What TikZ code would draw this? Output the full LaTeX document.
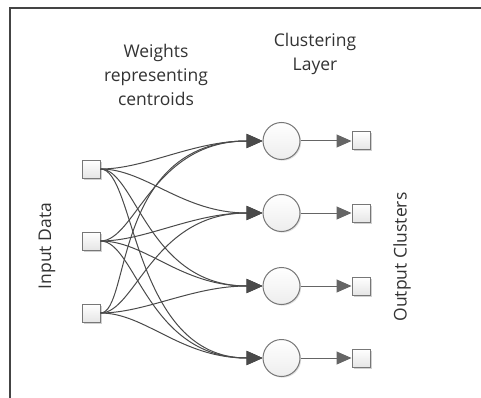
\documentclass[tikz,border=0pt]{standalone}
\usepackage{fontspec}
\setmainfont{Open Sans}
\usetikzlibrary{arrows.meta,shadows}
\definecolor{linec}{HTML}{4A4A4A}
\definecolor{bordc}{HTML}{777777}
\definecolor{textc}{HTML}{333333}
\definecolor{framec}{HTML}{444444}
\tikzset{
  sq/.style={draw=bordc, line width=1pt, minimum size=18pt, inner sep=0pt,
    top color=white, bottom color=black!10,
    drop shadow={shadow xshift=1.5pt, shadow yshift=-1.5pt, opacity=0.18, fill=black}},
  neuron/.style={circle, draw=bordc, line width=1pt, minimum size=37pt, inner sep=0pt,
    top color=white, bottom color=black!7,
    drop shadow={shadow xshift=1.2pt, shadow yshift=-1.2pt, opacity=0.12, fill=black}},
  wire/.style={draw=linec, line width=1pt, -{Triangle[length=16pt,width=14pt]}},
  outwire/.style={draw=linec!85, line width=1pt, -{Triangle[length=15pt,width=13pt]}},
  lbl/.style={text=textc, font=\fontsize{17.5}{24}\selectfont, align=center, inner sep=0pt},
  frameline/.style={draw=framec, line width=1.6pt}
}
\begin{document}
\begin{tikzpicture}[x=1pt,y=-1pt]
\useasboundingbox (0,0) rectangle (481,398);
\fill[white] (0,0) rectangle (481,398);
\draw[frameline] (10,398) -- (10,8) -- (481,8);

% labels
\node[lbl] (wlbl) at (156,75) {Weights\\representing\\centroids};
\node[lbl] (clbl) at (315,54) {Clustering\\Layer};
\node[lbl, rotate=90] (inlbl) at (47,246) {Input Data};
\node[lbl, rotate=90] (outlbl) at (402,257) {Output Clusters};

% nodes
\node[sq] (i1) at (91,169) {};
\node[sq] (i2) at (91,241) {};
\node[sq] (i3) at (91,313) {};
\node[neuron] (c1) at (281.5,141) {};
\node[neuron] (c2) at (281.5,213) {};
\node[neuron] (c3) at (281.5,286) {};
\node[neuron] (c4) at (281.5,358) {};
\node[sq] (o1) at (361,141) {};
\node[sq] (o2) at (361,213) {};
\node[sq] (o3) at (361,286) {};
\node[sq] (o4) at (361,358) {};

% weights
\foreach \s/\t/\a/\b in {
  i1/c1/45/70, i1/c2/45/80, i1/c3/35/115, i1/c4/35/130,
  i2/c1/35/110, i2/c2/45/70, i2/c3/45/82, i2/c4/35/115,
  i3/c1/30/150, i3/c2/35/110, i3/c3/45/70, i3/c4/45/82}{
  \draw[wire] (\s.east) .. controls +(\a,0) and +(-\b,0) .. (\t.west);
}

% outputs
\foreach \k in {1,2,3,4}{
  \draw[outwire] (c\k.east) -- (o\k.west);
}
\end{tikzpicture}
\end{document}
